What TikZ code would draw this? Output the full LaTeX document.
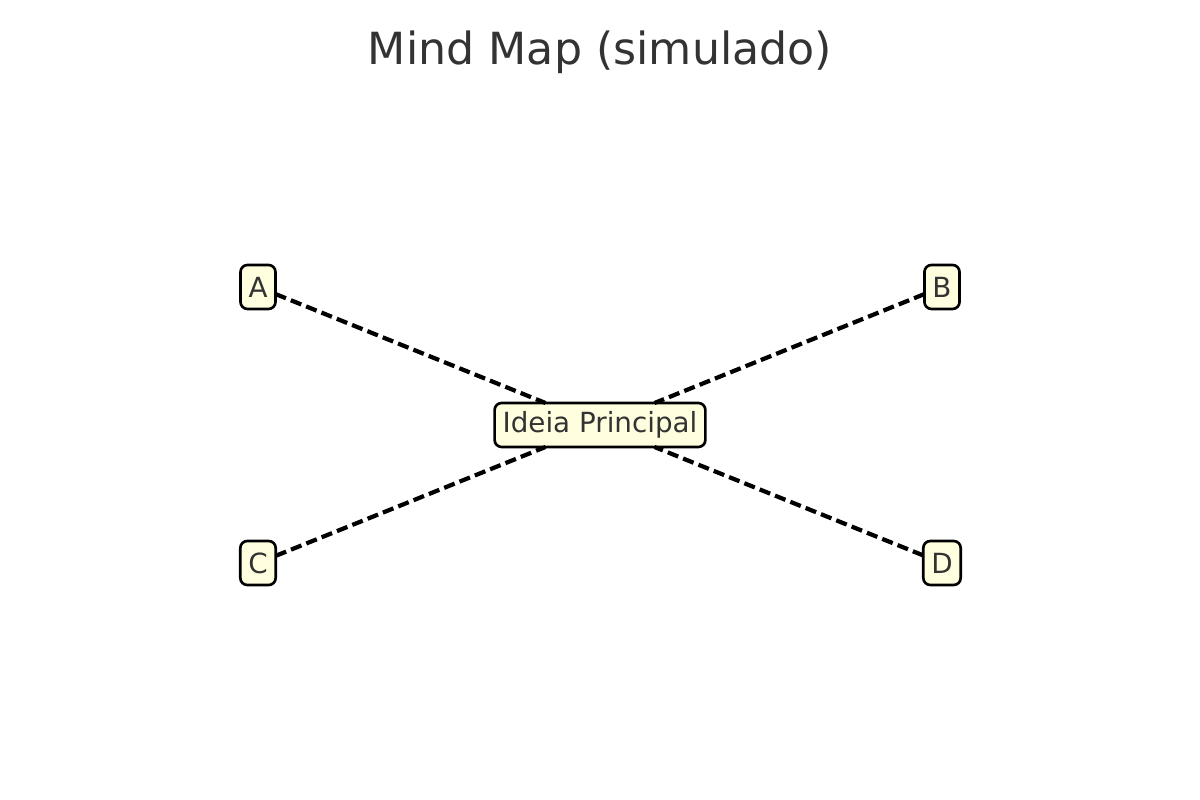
\documentclass[tikz,border=0pt]{standalone}
\usepackage{fontspec}
\setmainfont{DejaVu Sans}
\usepackage{tikz}
\usetikzlibrary{
  positioning,
  calc
}
\definecolor{ink}{RGB}{51,51,51}
\definecolor{paleyellow}{RGB}{255,255,224}

\begin{document}
\begin{tikzpicture}[
  idea/.style={
    rounded corners=2pt,
    draw=black,
    line width=0.75pt,
    fill=paleyellow,
    text=ink,
    align=center,
    font=\fontsize{7.9}{9}\selectfont,
    inner xsep=0.08cm,
    inner ysep=0pt,
    outer sep=0pt,
    minimum height=0.44cm
  },
  link/.style={
    line width=1.2pt,
    dash pattern=on 3.2pt off 1.5pt
  }
]
\useasboundingbox (0,0) rectangle (12,8);
\node[font=\fontsize{12.6}{15}\selectfont, text=ink] (title) at (6,7.48) {Mind Map (simulado)};

\node[idea] (main) at (6,3.75) {Ideia Principal};
\node[idea] (a) at (2.58,5.13) {A};
\node[idea] (b) at (9.42,5.13) {B};
\node[idea] (c) at (2.58,2.37) {C};
\node[idea] (d) at (9.42,2.37) {D};

\draw[link] (a) -- (main);
\draw[link] (b) -- (main);
\draw[link] (c) -- (main);
\draw[link] (d) -- (main);
\end{tikzpicture}
\end{document}
